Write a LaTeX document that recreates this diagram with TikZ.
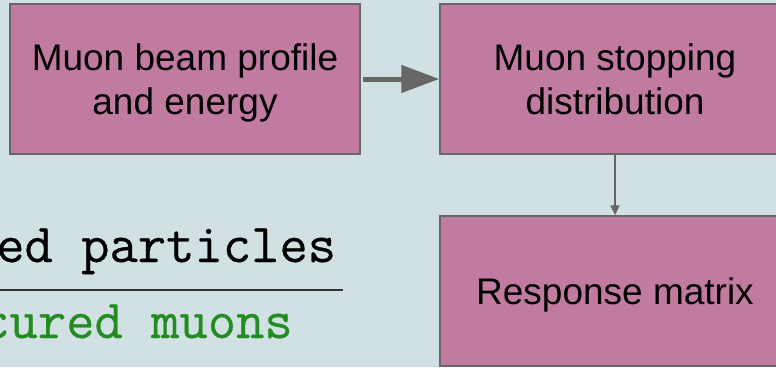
\documentclass[tikz,border=0pt]{standalone}
\usepackage{fontspec}
\setmainfont{Liberation Sans}
\newfontfamily\fracfont{Latin Modern Mono}[FakeBold=0.5]
\usetikzlibrary{arrows.meta}

\definecolor{slide}{HTML}{D0E0E3}
\definecolor{stepfill}{HTML}{C27BA0}
\definecolor{stepline}{HTML}{666666}
\definecolor{muongreen}{RGB}{34,139,34}

\tikzset{
    stepbox/.style={draw=stepline, line width=1.5pt, fill=stepfill, minimum width=350pt, minimum height=150pt},
    steptext/.style={inner sep=0pt, align=center, font=\fontsize{37}{44.5}\selectfont},
    fractext/.style={inner sep=0pt, anchor=base west, font=\fontsize{55}{60}\fracfont},
    bigarrow/.style={-{Triangle[length=38pt,width=27pt]}, line width=5pt, color=stepline},
    smallarrow/.style={-{Triangle[length=10pt,width=9pt]}, line width=1.5pt, color=stepline}
}

\begin{document}
\begin{tikzpicture}[x=1pt,y=-1pt]
    \useasboundingbox (0,0) rectangle (776,367);
    \clip (0,0) rectangle (776,367);
    \fill[slide] (0,0) rectangle (776,367);
    % Fraction cut from a slide
    \node[fractext] (num) at (-4,262) {ed particles};
    \node[fractext, text=muongreen] (den) at (-19,338) {cured muons};
    \coordinate (barL) at (0,290);
    \coordinate (barR) at (343,290);
    \draw[line width=2pt, black!80] (barL) -- (barR);
    % Boxes
    \node[stepbox] (beam) at (185,79) {};
    \node[stepbox] (stop) at (615,79) {};
    \node[stepbox] (resp) at (615,291) {};
    \node[steptext] (beamtext) at ([yshift=-4.7pt]beam.center) {\strut Muon beam profile\\\strut and energy};
    \node[steptext] (stoptext) at ([yshift=-4.7pt]stop.center) {\strut Muon stopping\\\strut distribution};
    \node[steptext] (resptext) at ([yshift=-4.7pt]resp.center) {\strut Response matrix};
    % Arrows
    \draw[bigarrow, shorten <=2pt] (beam.east) -- (stop.west);
    \draw[smallarrow] (stop.south) -- (resp.north);
\end{tikzpicture}
\end{document}
